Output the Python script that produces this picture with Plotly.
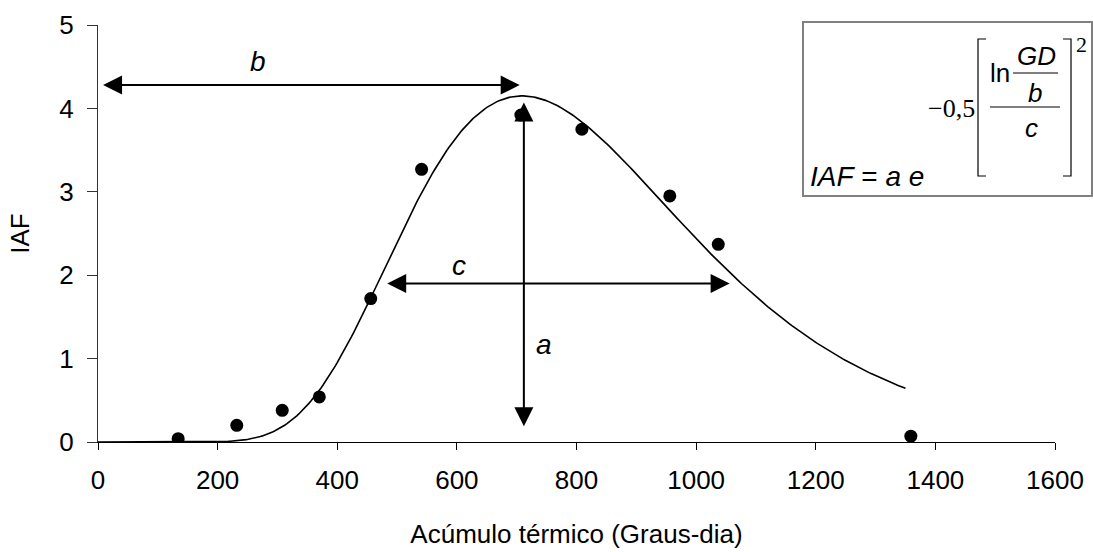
import numpy as np
import plotly.graph_objects as go

# Observed leaf area index (IAF) against thermal accumulation (degree-days)
gd_obs = [134, 232, 308, 370, 456, 541, 707, 809, 956, 1037, 1359]
iaf_obs = [0.04, 0.20, 0.38, 0.54, 1.72, 3.27, 3.92, 3.75, 2.95, 2.37, 0.07]

# Fitted log-normal model parameters: IAF = a * exp(-0.5 * (ln(GD/b)/c)^2)
a_par = 4.15
b_par = 709.0
c_par = 0.3335
gd_fit_max = 1350

x_ticks = [0, 200, 400, 600, 800, 1000, 1200, 1400, 1600]
y_ticks = [0, 1, 2, 3, 4, 5]

# Figure geometry (pixels)
W, H = 1093, 552
ML, MR, MT, MB = 98, 38, 25, 110
PW, PH = W - ML - MR, H - MT - MB


def px(p):
    return (p - ML) / PW


def py(p):
    return (H - MB - p) / PH


gd_curve = np.linspace(1, gd_fit_max, 400)
iaf_curve = a_par * np.exp(-0.5 * (np.log(gd_curve / b_par) / c_par) ** 2)
gd_curve = np.concatenate([[0], gd_curve])
iaf_curve = np.concatenate([[0], iaf_curve])

FONT = "Arial, Liberation Sans, sans-serif"
SERIF = "Times New Roman, Liberation Serif, serif"

fig = go.Figure()
fig.add_trace(go.Scatter(x=gd_curve, y=iaf_curve, mode="lines",
                         line=dict(color="black", width=1.6),
                         hoverinfo="skip", showlegend=False))
fig.add_trace(go.Scatter(x=gd_obs, y=iaf_obs, mode="markers",
                         marker=dict(color="black", size=13),
                         showlegend=False))

arrow_common = dict(xref="x", yref="y", axref="x", ayref="y", text="",
                    showarrow=True, arrowside="end+start", arrowhead=2,
                    startarrowhead=2, arrowsize=1.9, startarrowsize=1.9,
                    arrowwidth=2, arrowcolor="black", standoff=0,
                    startstandoff=0)

annotations = [
    # b: distance from origin to the peak
    dict(x=705, y=4.28, ax=6, ay=4.28, **arrow_common),
    # c: spread of the curve
    dict(x=1056, y=1.90, ax=481, ay=1.90, **arrow_common),
    # a: peak height
    dict(x=712, y=4.07, ax=712, ay=0.17, **arrow_common),
    dict(x=267, y=4.56, xref="x", yref="y", text="<i>b</i>", showarrow=False,
         font=dict(family=FONT, size=28, color="black")),
    dict(x=603, y=2.12, xref="x", yref="y", text="<i>c</i>", showarrow=False,
         font=dict(family=FONT, size=28, color="black")),
    dict(x=746, y=1.17, xref="x", yref="y", text="<i>a</i>", showarrow=False,
         font=dict(family=FONT, size=28, color="black")),
]

# Equation inside the box
eq_font = dict(family=FONT, size=26, color="black")
eq_serif = dict(family=SERIF, size=26, color="black")
annotations += [
    dict(x=px(808), y=py(176), xref="paper", yref="paper", xanchor="left",
         yanchor="middle", showarrow=False,
         font=dict(family=FONT, size=28, color="black"),
         text="<i>IAF</i> = <i>a e</i>"),
    dict(x=px(977), y=py(108), xref="paper", yref="paper", xanchor="right",
         yanchor="middle", showarrow=False, font=eq_serif, text="\u22120,5"),
    dict(x=px(1000), y=py(73), xref="paper", yref="paper", xanchor="center",
         yanchor="middle", showarrow=False, font=eq_font, text="ln"),
    dict(x=px(1036), y=py(56), xref="paper", yref="paper", xanchor="center",
         yanchor="middle", showarrow=False, font=eq_font, text="<i>GD</i>"),
    dict(x=px(1035), y=py(93), xref="paper", yref="paper", xanchor="center",
         yanchor="middle", showarrow=False, font=eq_font, text="<i>b</i>"),
    dict(x=px(1031), y=py(128), xref="paper", yref="paper", xanchor="center",
         yanchor="middle", showarrow=False, font=eq_font, text="<i>c</i>"),
    dict(x=px(1081), y=py(44), xref="paper", yref="paper", xanchor="center",
         yanchor="middle", showarrow=False,
         font=dict(family=SERIF, size=22, color="black"), text="2"),
]

shapes = [
    dict(type="rect", xref="paper", yref="paper", x0=px(803), x1=px(1092),
         y0=py(196), y1=py(22), line=dict(color="#808080", width=2),
         fillcolor="white", layer="below"),
    # fraction bars
    dict(type="line", xref="paper", yref="paper", x0=px(1013), x1=px(1058),
         y0=py(73), y1=py(73), line=dict(color="black", width=1.2)),
    dict(type="line", xref="paper", yref="paper", x0=px(990), x1=px(1060),
         y0=py(107), y1=py(107), line=dict(color="black", width=1.2)),
    # square brackets
    dict(type="path", xref="paper", yref="paper",
         path="M {},{} L {},{} L {},{} L {},{}".format(
             px(986), py(39), px(978), py(39), px(978), py(176),
             px(986), py(176)),
         line=dict(color="black", width=1.2)),
    dict(type="path", xref="paper", yref="paper",
         path="M {},{} L {},{} L {},{} L {},{}".format(
             px(1063), py(39), px(1071), py(39), px(1071), py(176),
             px(1063), py(176)),
         line=dict(color="black", width=1.2)),
]

fig.update_layout(
    width=W, height=H,
    margin=dict(l=ML, r=MR, t=MT, b=MB, autoexpand=False),
    paper_bgcolor="white", plot_bgcolor="white",
    font=dict(family=FONT, size=26, color="black"),
    annotations=annotations, shapes=shapes,
    xaxis=dict(range=[0, 1600], tickvals=x_ticks, showgrid=False,
               zeroline=False, showline=True, linecolor="black", linewidth=1.3,
               ticks="outside", ticklen=7, tickwidth=1.3, tickcolor="black",
               ticklabelstandoff=8,
               title=dict(text="Acúmulo térmico (Graus-dia)", standoff=30,
                          font=dict(size=26))),
    yaxis=dict(range=[0, 5], tickvals=y_ticks, showgrid=False,
               zeroline=False, showline=True, linecolor="#333333",
               linewidth=1.3, ticks="outside", ticklen=10, tickwidth=1.3,
               tickcolor="#333333", ticklabelstandoff=8,
               title=dict(text="IAF", standoff=22, font=dict(size=26))),
)

fig.write_html("out.html")
